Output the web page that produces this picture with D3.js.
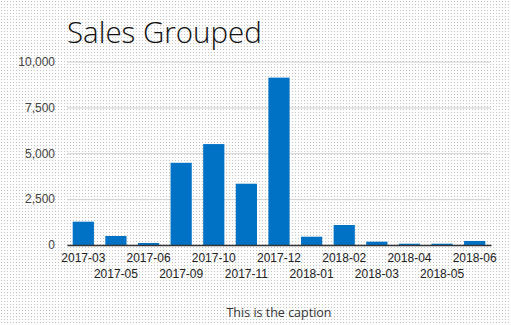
<!DOCTYPE html>
<html>
<head>
<meta charset="utf-8">
<script src="https://cdn.jsdelivr.net/npm/d3@7"></script>
<style>
  body { margin: 0; background: #fff; }
</style>
</head>
<body>
<div id="chart-area"></div>
<script>
const months = ["2017-03", "2017-05", "2017-06", "2017-09", "2017-10", "2017-11", "2017-12",
    "2018-01", "2018-02", "2018-03", "2018-04", "2018-05", "2018-06"];
const sales = [1270, 490, 110, 4480, 5500, 3340, 9120, 450, 1090, 180, 70, 70, 220];
const yTicks = [0, 2500, 5000, 7500, 10000];

const config = {
    width: 511,
    height: 325,
    margin: { left: 67, right: 20, top: 61.5, bottom: 80 }
};
config.chartWidth = config.width - config.margin.left - config.margin.right;
config.chartHeight = config.height - config.margin.top - config.margin.bottom;

const svg = d3.select('#chart-area')
    .append('svg')
    .attr("width", config.width)
    .attr("height", config.height);

// dotted background
const pat = svg.append("defs").append("pattern")
    .attr("id", "dots")
    .attr("width", 3)
    .attr("height", 3)
    .attr("patternUnits", "userSpaceOnUse");
pat.append("rect").attr("width", 3).attr("height", 3).attr("fill", "#fdfdfd");
pat.append("rect").attr("x", 1).attr("y", 1).attr("width", 1).attr("height", 1).attr("fill", "#c4c4c4");
svg.append("rect")
    .attr("width", config.width)
    .attr("height", config.height)
    .attr("fill", "url(#dots)");

svg.append("text")
    .attr("x", 67)
    .attr("y", 43)
    .attr("font-family", "'Open Sans', sans-serif")
    .attr("font-weight", 300)
    .attr("font-size", "29.5px")
    .style("fill", "#111")
    .text("Sales Grouped");

const g = svg.append('g')
    .attr("transform", `translate(${config.margin.left}, ${config.margin.top})`);

const xScale = d3.scaleBand()
    .domain(months)
    .range([0, config.chartWidth])
    .paddingInner(0.35)
    .paddingOuter(0.175);

const yScale = d3.scaleLinear()
    .domain([0, 10000])
    .range([config.chartHeight, 0]);

// grid + y labels
const yAxisGroup = g.append("g")
    .call(d3.axisLeft(yScale)
        .tickValues(yTicks)
        .tickSize(-config.chartWidth)
        .tickPadding(12)
        .tickFormat(d3.format(",")));
yAxisGroup.select(".domain").remove();
yAxisGroup.selectAll(".tick line").style("stroke", "#d0d0d0");
yAxisGroup.selectAll("text")
    .attr("font-family", "'Liberation Sans', Arial, sans-serif")
    .attr("font-size", "12px")
    .style("fill", "#444");

g.selectAll("rect.bar")
    .data(sales)
    .enter().append("rect")
    .attr("class", "bar")
    .attr("x", (d, i) => xScale(months[i]))
    .attr("y", d => yScale(d))
    .attr("width", xScale.bandwidth())
    .attr("height", d => config.chartHeight - yScale(d))
    .attr("fill", "#0072c6");

const xAxisGroup = g.append("g")
    .attr("transform", `translate(0, ${config.chartHeight})`)
    .call(d3.axisBottom(xScale).tickSize(0).tickPadding(8));
xAxisGroup.select(".domain")
    .style("stroke", "#333")
    .style("stroke-width", 1.5);
xAxisGroup.selectAll("text")
    .attr("font-family", "'Liberation Sans', Arial, sans-serif")
    .attr("font-size", "12px")
    .style("fill", "#222")
    .attr("dy", (d, i) => i % 2 === 0 ? "0.71em" : "2.05em");

svg.append("text")
    .attr("x", config.margin.left + config.chartWidth / 2)
    .attr("y", 317)
    .attr("text-anchor", "middle")
    .attr("font-family", "'Open Sans', sans-serif")
    .attr("font-size", "12.5px")
    .style("fill", "#333")
    .text("This is the caption");
</script>
</body>
</html>
